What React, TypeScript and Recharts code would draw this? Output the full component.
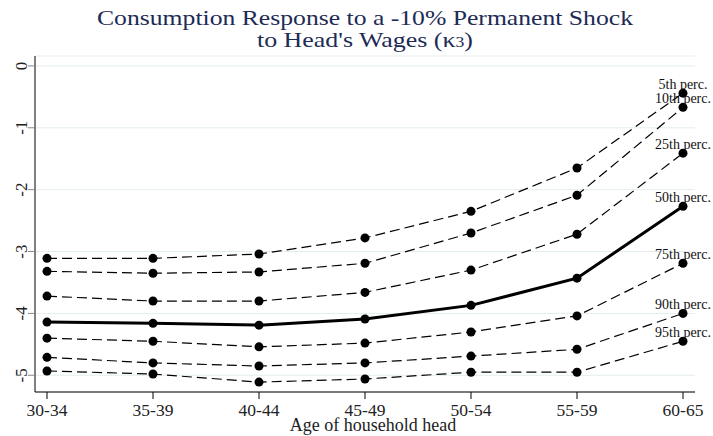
import React from 'react';
import { LineChart, Line, XAxis, YAxis, CartesianGrid, LabelList } from 'recharts';

const ages = ['30-34', '35-39', '40-44', '45-49', '50-54', '55-59', '60-65'];

const p5 = [-3.11, -3.11, -3.04, -2.78, -2.35, -1.65, -0.44];
const p10 = [-3.32, -3.35, -3.33, -3.19, -2.7, -2.09, -0.67];
const p25 = [-3.72, -3.8, -3.8, -3.66, -3.3, -2.72, -1.41];
const p50 = [-4.14, -4.16, -4.19, -4.09, -3.87, -3.43, -2.27];
const p75 = [-4.4, -4.45, -4.54, -4.48, -4.3, -4.04, -3.19];
const p90 = [-4.71, -4.8, -4.85, -4.8, -4.69, -4.58, -4.0];
const p95 = [-4.93, -4.98, -5.11, -5.06, -4.95, -4.95, -4.45];

const yTicks = [0, -1, -2, -3, -4, -5];

const series = [
  { key: 'p5', name: '5th perc.', values: p5, solid: false },
  { key: 'p10', name: '10th perc.', values: p10, solid: false },
  { key: 'p25', name: '25th perc.', values: p25, solid: false },
  { key: 'p50', name: '50th perc.', values: p50, solid: true },
  { key: 'p75', name: '75th perc.', values: p75, solid: false },
  { key: 'p90', name: '90th perc.', values: p90, solid: false },
  { key: 'p95', name: '95th perc.', values: p95, solid: false },
];

const last = ages.length - 1;
const data = ages.map((age, i) => {
  const row: any = { age };
  series.forEach((s) => {
    row[s.key] = s.values[i];
    row[s.key + '_tag'] = i === last ? s.name : null;
  });
  return row;
});

const serif = "'Liberation Serif', 'Times New Roman', serif";

// percentile name above the last dot of each line
const renderTag = (p: any) => {
  if (!p.value) return null;
  const vb = p.viewBox || {};
  const x = vb.x ?? p.x;
  const y = vb.y ?? p.y;
  return (
    <text x={x} y={y - 9} textAnchor="middle" dominantBaseline="central" fontFamily={serif} fontSize={14} fill="#111">
      {p.value}
    </text>
  );
};

const YTick = (p: any) => (
  <text
    x={p.x}
    y={p.y}
    transform={`rotate(-90 ${p.x} ${p.y})`}
    textAnchor="middle"
    dominantBaseline="central"
    fontFamily={serif}
    fontSize={17}
    fill="#222"
  >
    {p.payload.value}
  </text>
);

export default function App() {
  return (
    <div style={{ position: 'absolute', left: 0, top: 0 }}>
      <LineChart width={713} height={436} data={data} margin={{ top: 56, right: 18, left: 0, bottom: 0 }}>
        <CartesianGrid vertical={false} stroke="#e4eded" />
        <XAxis
          dataKey="age"
          padding={{ left: 12, right: 12 }}
          height={44}
          tickSize={7}
          tickMargin={5}
          axisLine={{ stroke: '#000' }}
          tickLine={{ stroke: '#000' }}
          tick={{ fontFamily: serif, fontSize: 17.5, fill: '#222' }}
          interval={0}
        />
        <YAxis
          type="number"
          domain={[-5.27, 0.16]}
          ticks={yTicks}
          width={35}
          tickSize={7}
          tickMargin={6}
          axisLine={{ stroke: '#000' }}
          tickLine={{ stroke: '#888' }}
          tick={<YTick />}
        />
        {series.map((s) => (
          <Line
            key={s.key}
            dataKey={s.key}
            type="linear"
            stroke="#000"
            strokeWidth={s.solid ? 3 : 1.2}
            strokeDasharray={s.solid ? undefined : '10 5'}
            dot={{ r: 4.5, fill: '#000', stroke: 'none' }}
            isAnimationActive={false}
          >
            <LabelList dataKey={s.key + '_tag'} content={renderTag} />
          </Line>
        ))}
        <text x={365} y={25} textAnchor="middle" fontFamily={serif} fontSize={22} fill="#1c2b55" textLength={536} lengthAdjust="spacingAndGlyphs">
          Consumption Response to a -10% Permanent Shock
        </text>
        <text x={365} y={47} textAnchor="middle" fontFamily={serif} fontSize={22} fill="#1c2b55" textLength={216} lengthAdjust="spacingAndGlyphs">
          to Head's Wages (κ<tspan fontSize={15}>3</tspan>)
        </text>
        <text x={373} y={431} textAnchor="middle" fontFamily={serif} fontSize={18} fill="#222">
          Age of household head
        </text>
      </LineChart>
    </div>
  );
}
